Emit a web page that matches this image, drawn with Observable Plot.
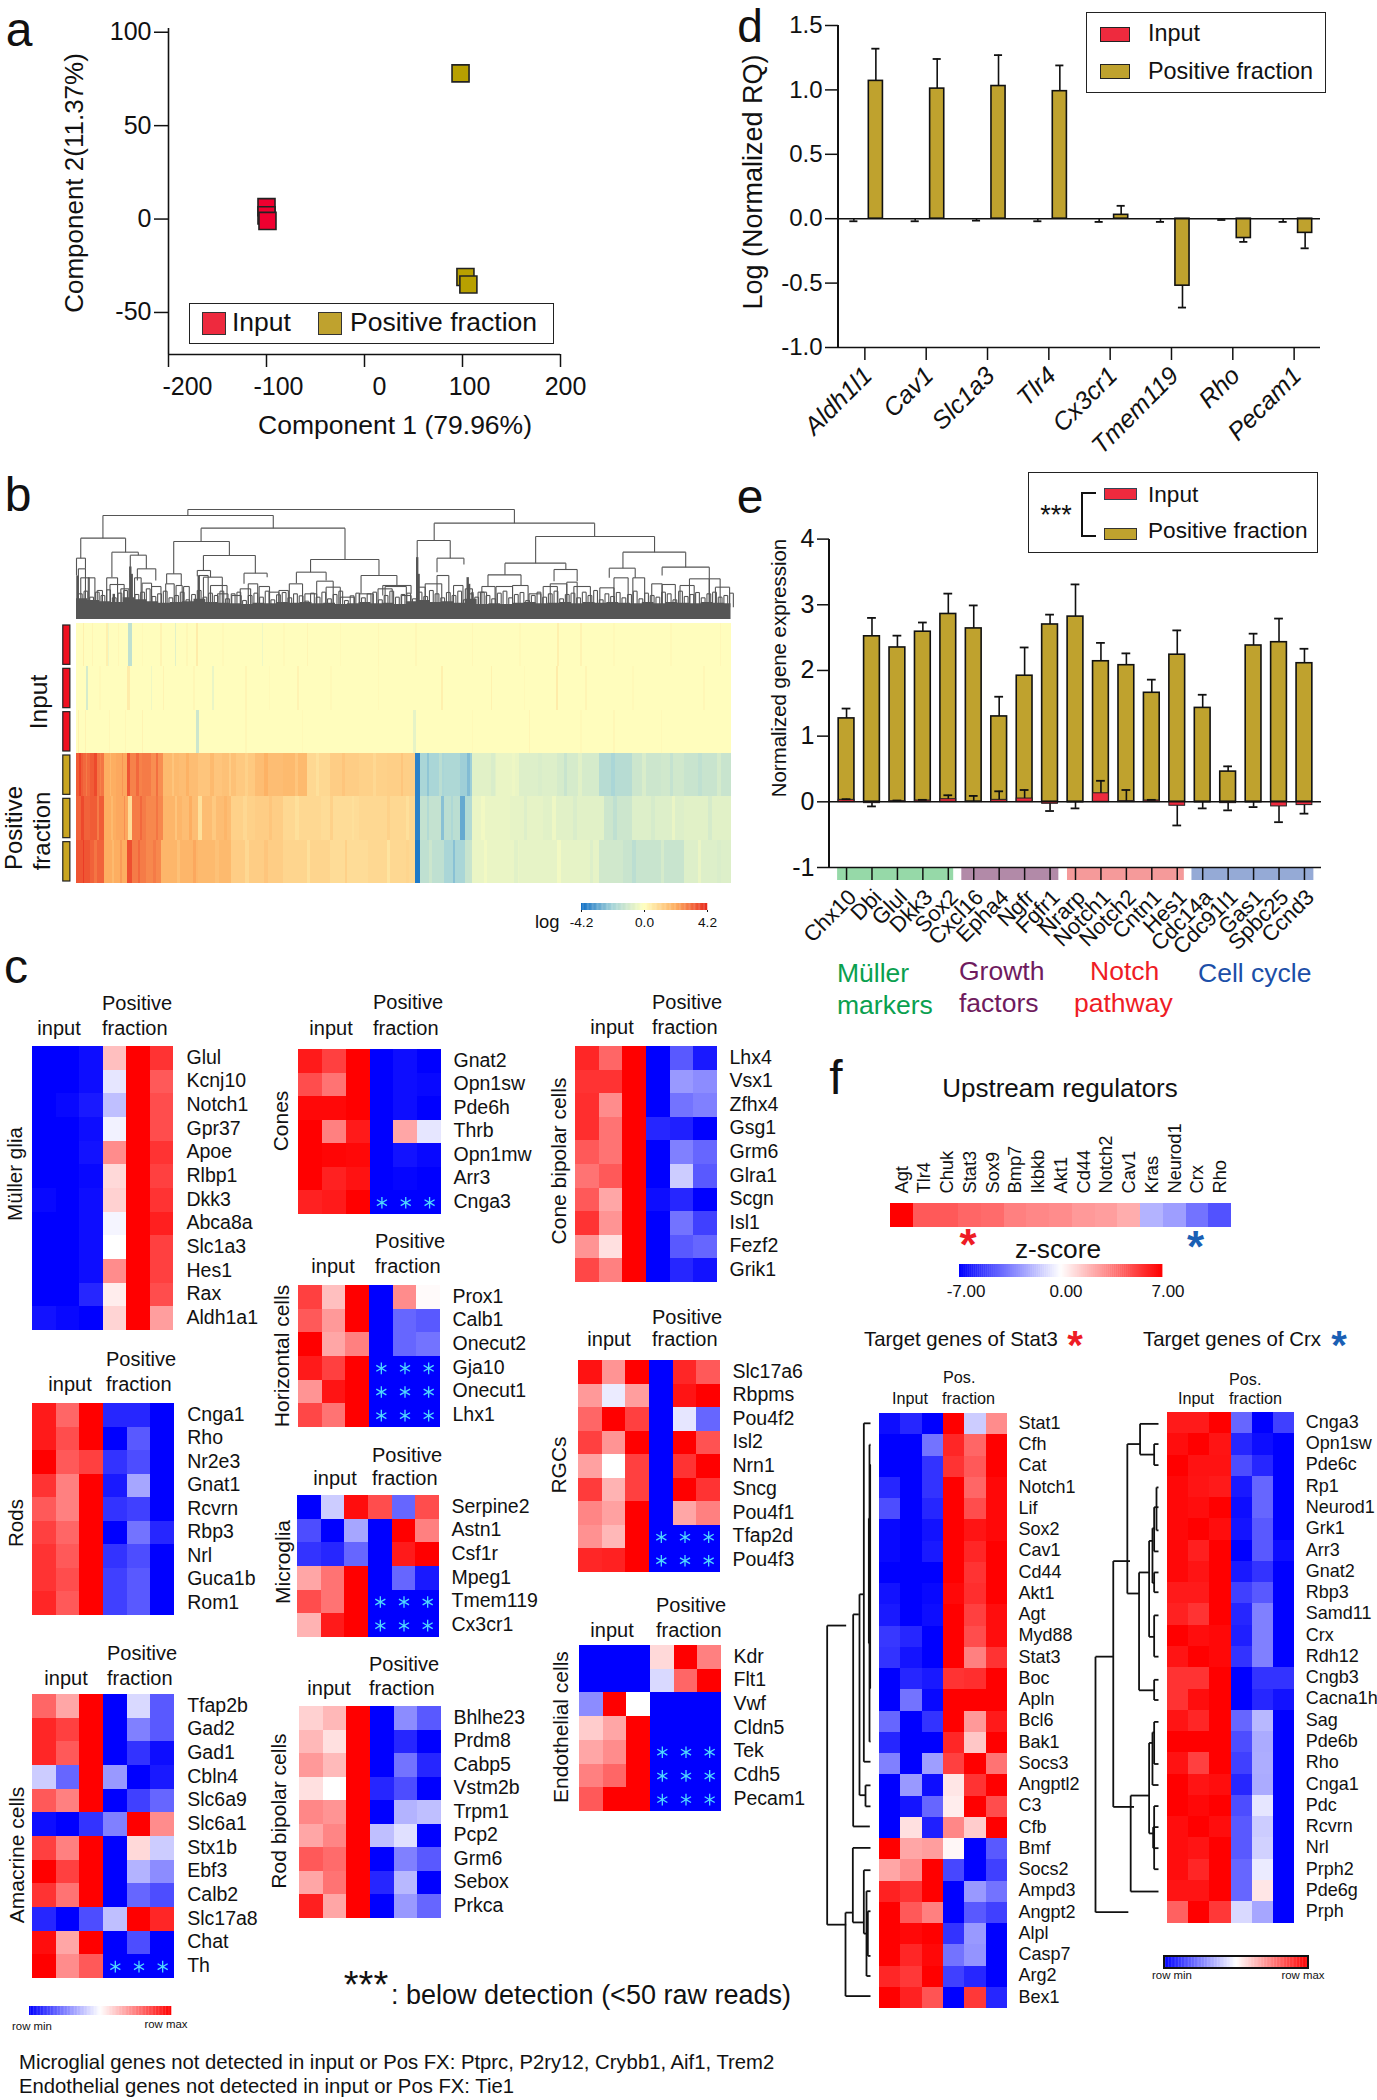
<!DOCTYPE html>
<html><head><meta charset="utf-8">
<style>
html,body{margin:0;padding:0;background:#fff}
#page{position:relative;width:1377px;height:2100px;overflow:hidden;font-family:"Liberation Sans",Arial,sans-serif;color:#111}
#page svg{position:absolute;max-width:none}
.t{position:absolute;white-space:nowrap;line-height:1}
.b{position:absolute;box-sizing:border-box}
</style>
<script src="https://cdn.jsdelivr.net/npm/d3@7"></script>
<script src="https://cdn.jsdelivr.net/npm/@observablehq/plot@0.6"></script>
</head><body><div id="page"></div>
<script>
// ---------- DATA ----------
const pcaInput=[[-100,6.4],[-100,2],[-99,-1]];
const pcaPositive=[[98,78],[103,-31],[106,-35]];
const pcaXTicks=[-200,-100,0,100,200];
const pcaXLabelShift=[19,12,15,7,5];

const qpcrGenes=["Aldh1l1","Cav1","Slc1a3","Tlr4","Cx3cr1","Tmem119","Rho","Pecam1"];
const qpcrInput=[0,0,0,0,0,0,0,0];
const qpcrInputErr=[-.02,-.02,-.015,-.02,-.025,-.025,-.01,-.025];
const qpcrPositive=[1.07,1.01,1.03,.99,.03,-.52,-.15,-.11];
const qpcrPositiveErr=[1.32,1.24,1.27,1.19,.10,-.69,-.18,-.23];

const exprGenes=["Chx10","Dbi","Glul","Dkk3","Sox2","Cxcl16","Epha4","Ngfr","Fgfr1","Nrarp","Notch1","Notch2","Cntn1","Hes1","Cdc14a","Cdc91l1","Gas1","Spbc25","Ccnd3"];
const exprPositive=[1.27,2.52,2.35,2.59,2.86,2.64,1.30,1.92,2.70,2.82,2.14,2.08,1.66,2.24,1.43,.46,2.38,2.43,2.11];
const exprPositiveErr=[1.42,2.80,2.53,2.73,3.17,2.99,1.60,2.35,2.85,3.31,2.42,2.26,1.86,2.61,1.63,.54,2.56,2.79,2.33];
const exprInput=[.03,-.02,.01,.02,.04,.005,.03,.05,-.03,-.01,.13,.01,.02,-.06,-.01,-.02,-.01,-.07,-.05];
const exprInputErr=[.04,-.07,.02,.03,.10,.09,.16,.18,-.14,-.10,.32,.18,.03,-.36,-.10,-.13,-.08,-.31,-.18];
const exprGroupStart=[-.35,4.54,8.7,13.6];
const exprGroupEnd=[4.22,8.36,13.3,18.4];
const exprGroupColor=["#96d9a8","#b28aa8","#f59a9a","#95aad6"];

// panel b: dendrogram [left, right, height, left leg end, right leg end]
const dendroUpper=[[397,1089,147,165,188],[217,578,165,233,203],[170,265,233,293,275],[161,180,293,345,325],[236,292,275,350,284],[275,309,284,350,325],[290,329,325,360,360],[425,730,203,243,297],[367,485,243,340,285],[352,383,340,370,375],[430,540,285,330,338],[417,445,330,347,350],[516,565,338,370,350],[657,802,297,335,345],[627,690,335,368,360],[764,840,345,398,375],[810,870,375,405,400],[919,1259,188,240,228],[883,953,240,400,293],[925,982,293,335,312],[1134,1386,228,308,275],[1069,1198,308,343,327],[1033,1103,343,378,375],[1173,1222,327,362,362],[1319,1452,275,323,320],[1290,1345,323,352,352],[1402,1502,320,345,355]];
const dendroLower=[[165,180,325],[170,188,352],[186,200,352],[205,216,390],[225,248,352],[232,262,372],[255,272,385],[284,298,352],[300,320,368],[320,340,378],[350,368,370],[372,385,375],[388,400,378],[420,440,345],[430,470,350],[445,480,375],[460,482,400],[490,510,405],[508,530,385],[525,545,370],[548,570,378],[570,590,395],[590,610,390],[612,640,370],[645,670,400],[670,705,362],[690,720,380],[720,750,410],[760,790,400],[800,830,385],[815,860,378],[850,870,405],[885,900,380],[900,935,370],[925,950,345],[960,980,375],[985,1000,385],[1012,1030,395],[1020,1048,378],[1050,1085,378],[1085,1118,375],[1120,1145,400],[1150,1180,378],[1165,1200,370],[1200,1222,365],[1215,1250,378],[1270,1300,382],[1300,1330,352],[1340,1365,352],[1380,1402,370],[1402,1430,372],[1440,1470,375],[1460,1502,355],[1502,1525,355],[1515,1545,380]];
const dendroTinyY=[400,392,410,395,405,388,412,398,390,415,402,395,385,408,400,392,412,405,395,418,402,390,410,398,405,392,415,400,395,420,405,398,410,392,418,403,396,412,400,406,422,398,410,395,415,402,392,420,406,398,412,400,395,418,405,392,410,402,398,415,395,408,390,400,412,396,405,392,418,400,410,395,405,415,398,392,412,402,396,420,405,395,410,400,392,415,402,398,412,395,405,390,418,400,408,396,412,402,392,415,398,405,410,395,400,418,392,408,402,396,412,400,395,410,405,398];
const dendroThick=[[163,345],[275,318],[278,340],[420,345],[883,290],[886,340],[240,400],[990,350],[993,370],[1000,395]];
const dendroMassX=[161,185,210,235,260,285,310,335,360,385,410,435,460,485,510,535,560,585,610,635,660,685,710,735,760,785,810,835,860,885,910,935,960,985,1010,1035,1060,1085,1110,1135,1160,1185,1210,1235,1260,1285,1310,1335,1360,1385,1410,1435,1460,1485,1510,1535,1548];
const dendroMassTop=[415,420,424,426,412,418,424,428,426,424,416,426,428,430,432,428,430,426,428,426,430,428,432,430,426,430,428,432,424,420,426,424,428,416,432,430,432,428,426,430,428,426,430,426,428,426,428,430,426,430,426,428,430,426,428,430,430];
const bRows=["I1","I2","I3","P1","P2","P3"];
const pos1Edges=[161,175,190,205,220,245,270,275,300,320,345,380,420,470,500,540,600,650,700,760,820,880,890,940,975,1000,1050,1100,1180,1270,1340,1400,1450,1548];
const pos1Vals=[3.4,3.2,3.4,3.0,2.1,2.2,3.5,2.8,2.9,2.6,1.8,1.7,1.5,1.6,1.4,1.7,1.8,1.0,1.3,1.2,1.25,-3.8,-2.0,-1.9,-2.2,-.7,-.5,-.8,-1.0,-1.7,-1.2,-1.1,-1.3];
const pos2Edges=[161,190,220,245,272,280,310,345,385,420,428,490,540,600,680,760,880,890,935,940,975,985,1000,1080,1150,1280,1340,1450,1548];
const pos2Vals=[3.3,3.4,2.1,2.2,.9,2.9,2.7,1.9,1.7,.8,1.7,1.2,1.3,1.0,.9,1.0,-3.8,-1.4,-2.5,-1.6,-3.0,-1.8,-.5,-.6,-.7,-1.2,-.8,-.7];
const pos3Edges=[161,190,220,270,280,310,342,420,490,600,700,780,880,890,940,985,1000,1100,1270,1320,1450,1548];
const pos3Vals=[3.5,3.3,2.1,3.6,2.9,2.7,1.9,1.8,1.3,1.1,.9,1.0,-4,-1.5,-2.0,-1.3,-.5,-.6,-1.1,-1.3,-.8];
const pos1Stripes=[[168,4,3.8],[182,3,2.9],[200,5,3.7],[212,3,2.8],[232,4,1.8],[258,3,2.5],[288,6,3.2],[330,5,3.1],[365,4,1.5],[395,6,2.0],[445,8,1.8],[485,5,1.3],[520,6,1.2],[560,8,2.0],[625,6,1.5],[670,6,.8],[725,5,1.5],[790,6,1.0],[850,5,1.5],[905,5,-2.4],[930,6,-1.6],[990,5,-2.6],[1040,8,-.9],[1085,6,-.4],[1140,8,-.9],[1195,6,-1.3],[1225,8,-.7],[1295,8,-2.0],[1360,8,-.9],[1420,6,-1.4],[1480,8,-1.5],[1520,8,-1.0]];
const pos2Stripes=[[172,5,3.7],[205,4,2.9],[235,4,1.8],[262,3,2.6],[296,5,3.2],[330,4,3.0],[370,5,1.5],[400,6,2.1],[450,8,1.4],[475,5,1.9],[515,8,1.0],[570,7,1.5],[625,8,.8],[700,6,1.2],[745,6,.8],[820,6,1.2],[860,6,.8],[905,5,-1.8],[955,4,-1.9],[1020,8,-.3],[1110,7,-.8],[1170,8,-.4],[1215,7,-.9],[1300,8,-1.5],[1380,8,-1.0],[1425,6,-.5],[1500,8,-1.0]];
const pos3Stripes=[[175,4,3.9],[200,5,3.0],[238,4,1.8],[255,4,2.4],[292,5,3.2],[325,5,2.9],[375,6,1.6],[410,5,2.2],[455,8,1.6],[520,7,1.0],[560,7,1.5],[650,7,.8],[730,6,1.2],[820,6,.7],[860,6,1.1],[910,5,-1.2],[960,4,-2.5],[1025,6,-.3],[1090,7,-.7],[1180,8,-.3],[1250,6,-.8],[1340,8,-1.6],[1400,8,-1.0],[1480,6,-.5],[1520,8,-.9]];
const inputBase=.05;
const input1Stripes=[[175,4,.4],[225,4,.4],[228,3,-.4],[272,8,-1.5],[340,3,.3],[370,3,-.7],[415,4,.5],[555,3,-.4],[650,3,.25],[800,4,.2],[1000,3,.2],[1180,4,.4],[1230,3,.3],[1525,3,.2],[195,3,.25],[250,3,.2],[300,3,.15],[395,3,.2],[470,4,.15],[600,3,.15],[720,3,.15],[880,3,.2],[1100,3,.15],[1300,3,.15],[1420,3,.15]];
const input2Stripes=[[183,4,-1],[270,6,.5],[320,3,-.4],[345,3,.3],[450,3,-.5],[520,4,.25],[630,4,.3],[935,3,.4],[1040,3,.35],[1178,4,.5],[1240,3,.25],[1490,3,.2],[210,3,.15],[410,3,.2],[570,3,.15],[700,3,.15],[800,3,.15],[1110,3,.15],[1340,3,.15]];
const input3Stripes=[[165,3,.4],[180,3,.3],[300,4,.3],[416,6,-1.2],[520,3,.2],[875,6,-.6],[1120,3,.25],[1300,3,.2],[1400,3,.15],[230,3,.2],[265,3,.2],[640,3,.15],[1000,3,.15],[1230,3,.15]];

// panel c
const mullerGenes=["Glul","Kcnj10","Notch1","Gpr37","Apoe","Rlbp1","Dkk3","Abca8a","Slc1a3","Hes1","Rax","Aldh1a1"];
const mullerVals=[[-1,-1,-.95,.25,1,.8],[-1,-1,-.95,-.1,1,.65],[-1,-.97,-.9,-.25,1,.7],[-1,-1,-.95,-.05,1,.7],[-1,-1,-.93,.45,1,.8],[-1,-1,-.97,.15,1,.75],[-.97,-1,-.95,.18,1,.8],[-1,-1,-.95,-.04,1,.88],[-1,-1,-.95,0,1,.75],[-1,-1,-.95,.45,1,.75],[-1,-1,-.85,.07,1,.7],[-.93,-.97,-1,.17,1,.38]];
const rodGenes=["Cnga1","Rho","Nr2e3","Gnat1","Rcvrn","Rbp3","Nrl","Guca1b","Rom1"];
const rodVals=[[.9,.6,1,-.85,-.85,-1],[.9,.7,1,-1,-.65,-1],[1,.65,.75,-.8,-.7,-1],[.8,.5,1,-.9,-.35,-1],[.65,.5,1,-.8,-.75,-1],[.75,.6,1,-1,-.55,-.85],[.8,.65,1,-.8,-.7,-1],[.8,.7,1,-.75,-.65,-1],[.85,.65,1,-.75,-.65,-1]];
const amacrineGenes=["Tfap2b","Gad2","Gad1","Cbln4","Slc6a9","Slc6a1","Stx1b","Ebf3","Calb2","Slc17a8","Chat","Th"];
const amacrineVals=[[.6,.35,1,-1,-.15,-.65],[.85,.75,1,-1,-.5,-.65],[.85,.65,1,-1,-.8,-.95],[-.2,-.6,1,-.4,-1,-.9],[.65,.5,1,-1,-.75,-.6],[-.95,-1,-.8,-.5,1,.45],[.75,.5,1,-1,.15,-.2],[1,.75,1,-1,-.3,-.45],[.8,.55,1,-1,-.6,-.7],[-.85,-1,-.7,-.25,1,.85],[.95,.35,1,-1,-.7,-1],[1,.45,.65,-1,-1,-1]];
const amacrineStars=["Th"];
const coneGenes=["Gnat2","Opn1sw","Pde6h","Thrb","Opn1mw","Arr3","Cnga3"];
const coneVals=[[.9,.75,1,-1,-.95,-1],[.7,.55,1,-1,-.95,-.97],[.97,.97,1,-1,-.95,-1],[1,.5,.9,-1,.35,-.1],[1,.98,.97,-1,-.93,-.97],[1,.87,.93,-1,-.98,-1],[.87,.9,1,-1,-1,-1]];
const coneStars=["Cnga3"];
const horizontalGenes=["Prox1","Calb1","Onecut2","Gja10","Onecut1","Lhx1"];
const horizontalVals=[[.75,.25,1,-1,.45,.02],[.65,.4,1,-1,-.6,-.65],[1,.35,.5,-1,-.6,-.55],[.9,.75,1,-1,-1,-1],[.42,.92,1,-1,-1,-1],[.72,.55,1,-1,-1,-1]];
const horizontalStars=["Gja10","Onecut1","Lhx1"];
const microgliaGenes=["Serpine2","Astn1","Csf1r","Mpeg1","Tmem119","Cx3cr1"];
const microgliaVals=[[-1,-.2,.95,.7,-.6,.7],[-.7,-1,-.35,-1,1,.5],[-.8,-.85,-.6,-1,.9,1],[.35,.55,1,-1,-.6,-.9],[.7,.55,1,-1,-1,-1],[.3,.9,1,-1,-1,-1]];
const microgliaStars=["Tmem119","Cx3cr1"];
const rodBipolarGenes=["Bhlhe23","Prdm8","Cabp5","Vstm2b","Trpm1","Pcp2","Grm6","Sebox","Prkca"];
const rodBipolarVals=[[.18,.28,1,-1,-.45,-.65],[.28,.12,1,-1,-.85,-1],[.4,.27,1,-1,-.55,-.85],[.12,0,1,-.85,-.7,-1],[.47,.42,1,-1,-.3,-.25],[.35,.48,1,-.25,-.12,-1],[.65,.58,1,-1,-.5,-.65],[.35,.55,1,-.85,-.28,-1],[.88,.35,1,-1,-.4,-.6]];
const coneBipolarGenes=["Lhx4","Vsx1","Zfhx4","Gsg1","Grm6","Glra1","Scgn","Isl1","Fezf2","Grik1"];
const coneBipolarVals=[[.85,.6,1,-1,-.65,-.9],[.8,.8,1,-1,-.4,-.45],[.82,.45,1,-1,-.55,-.5],[.82,.55,1,-.85,-.88,-1],[.65,.55,1,-1,-.5,-.6],[.55,.65,1,-1,-.2,-.65],[.65,.35,1,-.95,-.85,-1],[.8,.42,1,-1,-.55,-.75],[.42,.12,1,-1,-.65,-.6],[.72,.5,1,-1,-.85,-.93]];
const rgcGenes=["Slc17a6","Rbpms","Pou4f2","Isl2","Nrn1","Sncg","Pou4f1","Tfap2d","Pou4f3"];
const rgcVals=[[.93,.42,1,-1,.85,.65],[.4,-.08,.38,-1,.92,1],[.6,1,.75,-1,-.1,-.6],[.75,.42,1,-1,1,.68],[.37,0,.75,-1,.8,1],[.77,.3,.75,-1,1,.8],[.48,.37,1,-1,.35,.5],[.43,.28,1,-1,-1,-1],[.85,.87,1,-1,-1,-1]];
const rgcStars=["Tfap2d","Pou4f3"];
const endoGenes=["Kdr","Flt1","Vwf","Cldn5","Tek","Cdh5","Pecam1"];
const endoVals=[[-1,-1,-1,.15,1,.5],[-1,-1,-1,-.15,.6,1],[-.45,1,0,-1,-1,-1],[.2,.35,1,-1,-1,-1],[.35,.45,1,-1,-1,-1],[.5,.6,1,-1,-1,-1],[.65,1,1,-1,-1,-1]];
const endoStars=["Tek","Cdh5","Pecam1"];

// panel f
const regulators=["Agt","Tlr4","Chuk","Stat3","Sox9","Bmp7","Ikbkb","Akt1","Cd44","Notch2","Cav1","Kras","Neurod1","Crx","Rho"];
const regulatorZ=[1,.65,.65,.6,.58,.5,.47,.45,.4,.38,.32,-.3,-.38,-.55,-.68];
const stat3Genes=["Stat1","Cfh","Cat","Notch1","Lif","Sox2","Cav1","Cd44","Akt1","Agt","Myd88","Stat3","Boc","Apln","Bcl6","Bak1","Socs3","Angptl2","C3","Cfb","Bmf","Socs2","Ampd3","Angpt2","Alpl","Casp7","Arg2","Bex1"];
const stat3Vals=[[-.95,-.85,-1,1,-.2,.45],[-1,-1,-.55,.85,.6,1],[-1,-1,-.8,.8,.65,1],[-.85,-1,-.8,1,.6,.97],[-.7,-1,-.85,1,.7,.97],[-.97,-1,-.93,1,.92,.97],[-.97,-1,-.9,1,.85,1],[-1,-1,-1,1,.8,1],[-.93,-1,-.97,.97,.82,1],[-.9,-1,-.95,1,.75,.95],[-.78,-.85,-1,1,.7,.95],[-.8,-.92,-1,1,.5,.8],[-1,-.85,-.9,.8,.82,1],[-1,-.55,-.97,1,1,1],[-.6,-1,-.8,1,.4,.9],[-.85,-1,-1,.85,.22,1],[-.5,-1,-.38,.75,1,.55],[-1,-.4,-.95,.1,.8,1],[-1,-.92,-.6,.07,1,.7],[-1,.12,-.88,.47,.2,1],[1,.35,.38,.03,-1,-.65],[.35,.45,1,-.72,-1,-.75],[.87,.8,1,-1,-.4,-.55],[1,.65,.5,-1,-.65,-.75],[1,.97,1,-.8,-.4,-1],[1,.85,.97,-.55,-.42,-1],[.85,.78,1,-.75,-.85,-1],[1,.87,.67,-1,.78,-.85]];
const crxGenes=["Cnga3","Opn1sw","Pde6c","Rp1","Neurod1","Grk1","Arr3","Gnat2","Rbp3","Samd11","Crx","Rdh12","Cngb3","Cacna1h","Sag","Pde6b","Rho","Cnga1","Pdc","Rcvrn","Nrl","Prph2","Pde6g","Prph"];
const crxVals=[[.9,.9,1,-.6,-1,-.75],[.95,1,.92,-.85,-.95,-1],[1,.93,.93,-.7,-.85,-1],[.97,.92,.9,-.9,-.6,-1],[.97,.95,1,-.95,-.6,-1],[.97,1,.95,-.92,-.65,-1],[.97,.88,1,-1,-.65,-.95],[.97,.92,1,-.9,-.8,-1],[.9,.9,1,-.75,-.65,-1],[.87,.8,1,-.85,-.5,-1],[1,.95,.97,-.88,-.5,-1],[.92,1,.97,-.8,-.5,-1],[.8,.8,1,-1,-.8,-.8],[.8,.95,1,-1,-.85,-.93],[.92,.85,1,-.6,-.28,-1],[1,1,1,-.7,-.33,-1],[.93,.75,1,-.75,-.32,-1],[1,.92,.95,-.85,-.33,-1],[1,.97,1,-.7,-.1,-1],[.95,1,.95,-.65,-.2,-1],[.95,.92,1,-.65,-.18,-1],[.95,.85,1,-.6,-.08,-1],[.92,.92,1,-.6,.1,-1],[.62,1,.78,-.15,-.35,-1]];
// tree nodes: [depth of join, top row, bottom row, depth top leg ends, depth bottom leg ends]
const stat3Tree=[[-10,660,1330,47,47],[68,635,1110,85,118],[87,590,1040,100,105],[105,1018,1065,120,120],[100,207,965,120,120],[117,255,920,120,120],[119,300,800,121,121],[115,420,700,120,120],[67,1158,1325,120,100],[45,1303,1490,65,120],[100,1208,1350,120,108],[108,1255,1445,120,120],[112,1300,1400,120,120]];
const crxTree=[[15,775,1382,68,113],[68,548,1132,118,130],[110,270,625,148,145],[148,222,295,203,190],[190,270,320,203,203],[145,575,855,175,190],[190,830,878,203,203],[175,500,728,185,190],[197,373,475,203,203],[190,420,525,203,203],[185,470,600,190,190],[190,575,622,203,203],[190,677,775,203,203],[120,1105,1333,175,203],[175,980,1195,185,190],[190,930,1030,203,203],[185,955,1080,190,203],[190,1130,1280,203,203],[187,1180,1230,203,203]];

// ---------- HELPERS ----------
const FONT='"Liberation Sans",Arial,sans-serif';
const page=document.getElementById("page");
const RED="#ee2a3e",GOLD="#bfa22e",INK="#111";
function put(left,top,opts){
  const svg=Plot.plot({margin:0,...opts,style:{background:"transparent",fontFamily:FONT,overflow:"visible",color:INK}});
  svg.style.left=left+"px";svg.style.top=top+"px";page.appendChild(svg);return svg;
}
function txt(s,x,y,o={}){
  const e=document.createElement("span");e.className="t";e.textContent=s;
  const a=o.anchor==="start"?"0":o.anchor==="end"?"-100%":"-50%";
  e.style.left=x+"px";e.style.top=y+"px";e.style.fontSize=(o.size||20)+"px";
  if(o.color)e.style.color=o.color;
  if(o.bold)e.style.fontWeight="bold";
  e.style.transform=`translate(${a},-50%)`+(o.rot?` rotate(${o.rot}deg)`:"");
  page.appendChild(e);
}
function box(x,y,w,h,fill,border){
  const e=document.createElement("div");e.className="b";
  e.style.cssText+=`left:${x}px;top:${y}px;width:${w}px;height:${h}px;background:${fill||"transparent"};`+(border?`border:${border};`:"");
  page.appendChild(e);
}
const blueRed={type:"linear",domain:[-1,0,1],range:["#0000ff","#ffffff","#ff0000"],clamp:true};
function heat(genes,vals,x0,x1,y0,y1,stars,geneX,fs){
  const cols=d3.range(vals[0].length);
  const cells=genes.flatMap((g,r)=>vals[r].map((v,c)=>({k:r,g,c,v})));
  const rowKeys=genes.map((g,i)=>i);
  const mr=120;
  const starCells=cells.filter(d=>(stars||[]).includes(d.g)&&d.c>2);
  put(x0,y0,{width:x1-x0+mr,height:y1-y0,marginRight:mr,
    x:{type:"band",domain:cols,padding:0,round:false,axis:null},
    y:{type:"band",domain:rowKeys,padding:0,round:false},
    color:blueRed,
    marks:[
      Plot.cell(cells,{x:"c",y:"k",fill:"v",shapeRendering:"crispEdges"}),
      Plot.dot(starCells,{x:"c",y:"k",symbol:"asterisk",r:5.5,stroke:"#4fd8ff",strokeWidth:1.3}),
      Plot.axisY({anchor:"right",tickSize:0,tickPadding:geneX-x1,fontSize:fs||19.5,label:null,dy:-1,tickFormat:i=>genes[i]})
    ]});
}
function gradient(x0,x1,y0,y1,color,domain,ticks,fs){
  const step=(domain[1]-domain[0])/100;
  const d=d3.range(100).map(i=>({a:domain[0]+i*step,b:domain[0]+(i+1)*step+step*.2,v:domain[0]+(i+.5)*step}));
  const marks=[Plot.rectY(d,{x1:"a",x2:"b",y1:0,y2:1,fill:"v"})];
  if(ticks)marks.push(Plot.axisX({ticks,tickSize:2,tickPadding:5,fontSize:fs,label:null,tickFormat:v=>v.toFixed(1)}));
  put(x0,y0,{width:x1-x0,height:y1-y0,x:{domain,range:[0,x1-x0],axis:null},y:{domain:[0,1],axis:null,range:[y1-y0,0]},color,marks});
}
function treePlot(tree,x0,x1,y0,y1,dom,ydom){
  const segs=tree.flatMap(([d,a,b,da,db])=>[[d,a,d,b],[d,a,da,a],[d,b,db,b]]).map(([x1,y1,x2,y2])=>({x1,y1,x2,y2}));
  put(x0,y0,{width:x1-x0,height:y1-y0,x:{domain:dom,axis:null,range:[0,x1-x0]},y:{domain:ydom,axis:null,range:[0,y1-y0]},
    marks:[Plot.link(segs,{x1:"x1",y1:"y1",x2:"x2",y2:"y2",stroke:"#111",strokeWidth:1.8,curve:"linear"})]});
}

// ---------- PANEL LETTERS ----------
[["a",19,30,48],["b",18,495,48],["c",16,967,48],["d",750,26,46],["e",750,497,48],["f",836,1078,48]].forEach(([l,x,y,s])=>txt(l,x,y,{size:s}));

// ---------- PANEL A ----------
put(0,0,{width:620,height:420,marginLeft:168,marginRight:60,marginTop:28,marginBottom:66,
  x:{domain:[-200,200]},y:{domain:[-72.5,102]},
  marks:[
    Plot.ruleX([-200],{y1:-72.5,y2:102,strokeWidth:1.6}),
    Plot.ruleY([-72.5],{x1:-200,x2:200,strokeWidth:1.6}),
    Plot.axisY({ticks:[-50,0,50,100],tickSize:14,tickPadding:3,fontSize:25,strokeWidth:1.5,label:null,tickFormat:String}),
    Plot.axisX({ticks:pcaXTicks,tickSize:13,strokeWidth:1.5,label:null,tickFormat:()=>""}),
    ...pcaXTicks.map((t,i)=>Plot.axisX({ticks:[t],tickSize:0,tickPadding:23,fontSize:25,dx:pcaXLabelShift[i],label:null,tickFormat:String})),
    Plot.dot(pcaPositive,{x:"0",y:"1",symbol:"square",r:9.6,fill:"#b8a000",stroke:"#222",strokeWidth:1.6}),
    Plot.dot(pcaInput,{x:"0",y:"1",symbol:"square",r:9.6,fill:"#f00030",stroke:"#222",strokeWidth:1.6})
  ]});
txt("Component 1 (79.96%)",395,425,{size:26.5});
txt("Component 2(11.37%)",74,183,{size:26,rot:-90});
box(189,303,365,41,"#fff","1.6px solid #222");
box(202,312,24,23,RED,"1.5px solid #333");
txt("Input",232,322,{size:26.5,anchor:"start"});
box(318,312,24,23,GOLD,"1.5px solid #333");
txt("Positive fraction",350,322,{size:26.5,anchor:"start"});

// ---------- PANEL D ----------
const qData=qpcrGenes.map((g,i)=>({g,inp:qpcrInput[i],ie:qpcrInputErr[i],pos:qpcrPositive[i],pe:qpcrPositiveErr[i]}));
const qDx=11;
put(720,15,{width:657,height:455,marginLeft:118,marginRight:57,marginTop:10,marginBottom:123,
  x:{type:"band",domain:qpcrGenes,paddingInner:.77,paddingOuter:.315,round:false},y:{domain:[-1,1.5]},
  marks:[
    Plot.ruleX(qData,{x:"g",y1:"pos",y2:"pe",dx:qDx,strokeWidth:1.6}),
    Plot.tickY(qData,{x:"g",y:"pe",dx:qDx,insetLeft:3,insetRight:3,strokeWidth:1.8}),
    Plot.ruleX(qData,{x:"g",y1:"inp",y2:"ie",dx:-qDx,strokeWidth:1.6}),
    Plot.tickY(qData,{x:"g",y:"ie",dx:-qDx,insetLeft:3,insetRight:3,strokeWidth:1.8}),
    Plot.barY(qData,{x:"g",y:"pos",dx:qDx,fill:GOLD,stroke:"#111",strokeWidth:1.6}),
    Plot.barY(qData,{x:"g",y:"inp",dx:-qDx,fill:RED,stroke:"#111",strokeWidth:1.6}),
    Plot.ruleY([0],{strokeWidth:1.6}),
    Plot.ruleY([-1],{strokeWidth:1.6}),
    Plot.axisY({ticks:[-1,-.5,0,.5,1,1.5],tickSize:13,tickPadding:3,fontSize:24,strokeWidth:1.5,label:null,tickFormat:d=>d.toFixed(1)}),
    Plot.axisX({tickSize:13,strokeWidth:1.5,label:null,tickFormat:()=>""}),
    Plot.axisX({tickSize:0,tickPadding:24,dx:3,tickRotate:-45,fontSize:25,fontStyle:"italic",label:null})
  ]});
box(837.2,25,1.6,322,"#111");
txt("Log (Normalized RQ)",753,182,{size:27,rot:-90});
box(1086,12,240,81,"#fff","1.6px solid #222");
box(1100,27,30,15,RED,"1.5px solid #222");
txt("Input",1148,34,{size:23.4,anchor:"start"});
box(1100,64,30,15,GOLD,"1.5px solid #222");
txt("Positive fraction",1148,72,{size:23.4,anchor:"start"});

// ---------- PANEL B ----------
const dendroSegs=[];
dendroUpper.forEach(([a,b,y,ya,yb])=>{dendroSegs.push({x1:a,y1:y,x2:b,y2:y},{x1:a,y1:y,x2:a,y2:ya},{x1:b,y1:y,x2:b,y2:yb});});
dendroLower.forEach(([a,b,y])=>{dendroSegs.push({x1:a,y1:y,x2:b,y2:y},{x1:a,y1:y,x2:a,y2:440},{x1:b,y1:y,x2:b,y2:440});});
dendroTinyY.forEach((y,i)=>{const a=165+i*12,b=a+8;dendroSegs.push({x1:a,y1:y,x2:b,y2:y},{x1:a,y1:y,x2:a,y2:440},{x1:b,y1:y,x2:b,y2:440});});
const massData=dendroMassX.map((x,i)=>({x,t:dendroMassTop[i]}));
put(76,509,{width:654.5,height:110,x:{domain:[161,1548],axis:null,range:[0,654.5]},y:{domain:[147,477],axis:null,range:[0,110]},
  marks:[
    Plot.link(dendroSegs,{x1:"x1",y1:"y1",x2:"x2",y2:"y2",stroke:"#555",strokeWidth:1.1,curve:"linear"}),
    Plot.link(dendroThick,{x1:"0",y1:"1",x2:"0",y2:()=>440,stroke:"#555",strokeWidth:2.4,curve:"linear"}),
    Plot.areaY(massData,{x:"x",y1:()=>477,y2:"t",fill:"#555",curve:"step-after"})
  ]});
const bScale={type:"linear",domain:[-4.2,-2.1,0,2.1,4.2],range:["#0f6fc6","#a6d4d8","#ffffbf","#fdae61","#e8291c"],clamp:true};
function segs(row,edges,vals){return vals.map((v,i)=>({row,a:edges[i],b:edges[i+1],v}));}
function stripeBars(row,list){return list.map(([x,w,v])=>({row,a:x,b:x+w,v}));}
const inputBars=r=>[{row:r,a:161,b:1548,v:inputBase}];
const bBars=[...inputBars("I1"),...stripeBars("I1",input1Stripes),...inputBars("I2"),...stripeBars("I2",input2Stripes),...inputBars("I3"),...stripeBars("I3",input3Stripes),
  ...segs("P1",pos1Edges,pos1Vals),...stripeBars("P1",pos1Stripes),...segs("P2",pos2Edges,pos2Vals),...stripeBars("P2",pos2Stripes),...segs("P3",pos3Edges,pos3Vals),...stripeBars("P3",pos3Stripes)];
put(60,623,{width:670.5,height:260,marginLeft:16,
  x:{domain:[161,1548],axis:null,range:[16,670.5]},y:{type:"band",domain:bRows,padding:0,round:false,axis:null},color:bScale,
  marks:[
    Plot.barX(bBars,{x1:"a",x2:"b",y:"row",fill:"v",shapeRendering:"crispEdges"}),
    Plot.barX(bRows.slice(0,3),{x1:()=>133,x2:()=>148,y:d=>d,fill:"#f01020",stroke:"#222",strokeWidth:1.2,insetTop:2,insetBottom:2}),
    Plot.barX(bRows.slice(3),{x1:()=>133,x2:()=>148,y:d=>d,fill:"#c9a520",stroke:"#222",strokeWidth:1.2,insetTop:2,insetBottom:2})
  ]});
txt("Input",39,702,{size:24.5,rot:-90});
txt("Positive",14,828,{size:24,rot:-90});
txt("fraction",42,831,{size:24,rot:-90});
txt("log",535,922,{size:18.4,anchor:"start"});
gradient(581,707,903,910,bScale,[-4.2,4.2],[-4.2,0,4.2],13.7);

// ---------- PANEL C ----------
function header(inputX,y2,posX,y1,size){
  txt("input",inputX,y2,{size:size||20});
  txt("Positive",posX,y1,{size:size||20,anchor:"start"});
  txt("fraction",posX,y2,{size:size||20,anchor:"start"});
}
heat(mullerGenes,mullerVals,32,173,1046,1330,[],186);
header(59,1028,102,1003);txt("Müller glia",15,1174,{size:20.6,rot:-90});
heat(rodGenes,rodVals,32,174,1403,1615,[],186.7);
header(70,1384,106,1359);txt("Rods",16,1523,{size:20.6,rot:-90});
heat(amacrineGenes,amacrineVals,32,174,1694,1978,amacrineStars,186.7);
header(66,1678,107,1653);txt("Amacrine cells",16,1855,{size:21,rot:-90});
heat(coneGenes,coneVals,298,441,1049,1214,coneStars,453);
header(331,1028,373,1002);txt("Cones",280,1121,{size:21,rot:-90});
heat(horizontalGenes,horizontalVals,298,440,1285,1427,horizontalStars,452);
header(333,1266,375,1241);txt("Horizontal cells",281,1356,{size:21,rot:-90});
heat(microgliaGenes,microgliaVals,297,439,1495,1637,microgliaStars,451);
header(335,1478,372,1455);txt("Microglia",282,1562,{size:21,rot:-90});
heat(rodBipolarGenes,rodBipolarVals,299,441,1706,1918,[],453);
header(329,1688,369,1664);txt("Rod bipolar cells",278,1811,{size:21,rot:-90});
heat(coneBipolarGenes,coneBipolarVals,575,717,1046,1282,[],729);
header(612,1027,652,1002);txt("Cone bipolar cells",558,1161,{size:21,rot:-90});
heat(rgcGenes,rgcVals,578,720,1360,1572,rgcStars,732);
header(609,1339,652,1317);txt("RGCs",558,1465,{size:21,rot:-90});
heat(endoGenes,endoVals,579,721,1645,1811,endoStars,733);
header(612,1630,656,1605);txt("Endothelial cells",560,1727,{size:21,rot:-90});

gradient(29,171,2006,2015,blueRed,[-1,1]);
txt("row min",32,2027,{size:11.4});
txt("row max",166,2025,{size:11.4});
txt("***",366,1985,{size:38});
txt(": below detection (<50 raw reads)",391,1995,{size:27,anchor:"start"});
txt("Microglial genes not detected in input or Pos FX: Ptprc, P2ry12, Crybb1, Aif1, Trem2",19,2062,{size:20.3,anchor:"start"});
txt("Endothelial genes not detected in input or Pos FX: Tie1",19,2086,{size:20.3,anchor:"start"});

// ---------- PANEL E ----------
const groupBands=exprGroupStart.map((a,i)=>({a,b:exprGroupEnd[i],c:exprGroupColor[i]}));
put(829,867,{width:492,height:13,x:{domain:[-.669,18.7],axis:null,range:[0,492]},y:{domain:[0,1],axis:null},
  marks:groupBands.map(d=>Plot.rectY([d],{x1:"a",x2:"b",y1:0,y2:1,fill:d.c}))});
const eData=exprGenes.map((g,i)=>({g,inp:exprInput[i],ie:exprInputErr[i],pos:exprPositive[i],pe:exprPositiveErr[i]}));
put(770,530,{width:607,height:430,marginLeft:59,marginRight:56,marginTop:8.6,marginBottom:93,
  x:{type:"band",domain:exprGenes,paddingInner:.38,paddingOuter:.36,round:false},y:{domain:[-1,4]},
  marks:[
    Plot.ruleX(eData,{x:"g",y1:"pos",y2:"pe",strokeWidth:1.6}),
    Plot.tickY(eData,{x:"g",y:"pe",insetLeft:3.5,insetRight:3.5,strokeWidth:1.8}),
    Plot.barY(eData,{x:"g",y:"pos",fill:GOLD,stroke:"#111",strokeWidth:1.6}),
    Plot.barY(eData,{x:"g",y:"inp",fill:RED,stroke:"#222",strokeWidth:1}),
    Plot.ruleX(eData,{x:"g",y1:"inp",y2:"ie",strokeWidth:1.6}),
    Plot.tickY(eData,{x:"g",y:"ie",insetLeft:3.5,insetRight:3.5,strokeWidth:1.8}),
    Plot.ruleY([0],{strokeWidth:1.6}),
    Plot.ruleY([-1],{strokeWidth:1.6}),
    Plot.axisY({ticks:[-1,0,1,2,3,4],tickSize:12,tickPadding:3,fontSize:25,strokeWidth:1.5,label:null,tickFormat:String}),
    Plot.axisX({tickSize:13,strokeWidth:1.5,label:null,tickFormat:()=>""}),
    Plot.axisX({tickSize:0,tickPadding:26,dx:6,tickRotate:-45,fontSize:22,label:null})
  ]});
box(828.2,538.6,1.6,328.4,"#111");
txt("Normalized gene expression",779,668,{size:20.4,rot:-90});
box(1028,472,290,81,"#fff","1.6px solid #222");
box(1103.5,488,33,12,RED,"1.5px solid #345");
txt("Input",1148,495,{size:22.6,anchor:"start"});
box(1103.5,528,33,12,GOLD,"1.5px solid #333");
txt("Positive fraction",1148,531,{size:22.6,anchor:"start"});
txt("***",1056,515,{size:27});
box(1081,492,1.6,44,"#111");box(1081,492,15,1.6,"#111");box(1081,535,15,1.6,"#111");
txt("Müller",837,973,{size:26.5,color:"#0aa04f",anchor:"start"});
txt("markers",837,1005,{size:26.5,color:"#0aa04f",anchor:"start"});
txt("Growth",959,971,{size:26.5,color:"#6f1b5e",anchor:"start"});
txt("factors",959,1003,{size:26.5,color:"#6f1b5e",anchor:"start"});
txt("Notch",1090,971,{size:26.5,color:"#ef1c25",anchor:"start"});
txt("pathway",1074,1003,{size:26.5,color:"#ef1c25",anchor:"start"});
txt("Cell cycle",1198,973,{size:26.5,color:"#1c4fa8",anchor:"start"});

// ---------- PANEL F ----------
txt("Upstream regulators",1060,1088,{size:26});
const regData=regulators.map((g,i)=>({g,v:regulatorZ[i]}));
put(890,1100,{width:341,height:127,marginTop:103,
  x:{type:"band",domain:regulators,padding:0,round:false},y:{domain:[0,1],axis:null},color:blueRed,
  marks:[
    Plot.rectY(regData,{x:"g",y1:0,y2:1,fill:"v",shapeRendering:"crispEdges"}),
    Plot.axisX({anchor:"top",tickSize:0,tickPadding:10,tickRotate:-90,fontSize:18.3,label:null})
  ]});
txt("*",968,1245,{size:44,color:"#ee1c25",bold:true});
txt("*",1195.5,1247,{size:44,color:"#1a5fb4",bold:true});
txt("z-score",1058,1249,{size:26.3});
gradient(959,1162,1264,1277,blueRed,[-1,1]);
txt("-7.00",966,1291,{size:17});txt("0.00",1066,1291,{size:17});txt("7.00",1168,1291,{size:17});
txt("Target genes of Stat3",864,1339,{size:20.4,anchor:"start"});
txt("*",1075,1345,{size:40,color:"#ee1c25",bold:true});
txt("Target genes of Crx",1143,1339,{size:20.4,anchor:"start"});
txt("*",1339,1345,{size:40,color:"#1a5fb4",bold:true});

heat(stat3Genes,stat3Vals,879,1007,1412.6,2007.7,[],1018,18);
txt("Input",910,1398,{size:16.2});txt("Pos.",943,1377,{size:16.2,anchor:"start"});txt("fraction",942,1398,{size:16.2,anchor:"start"});
treePlot(stat3Tree,825,871,1412.6,2007.7,[-15,123],[185,1518]);

heat(crxGenes,crxVals,1166.7,1294,1412,1922.6,[],1305,18);
txt("Input",1196,1398,{size:16.2});txt("Pos.",1229,1379,{size:16.2,anchor:"start"});txt("fraction",1229,1398,{size:16.2,anchor:"start"});
treePlot(crxTree,1095,1158,1412,1922.6,[15,203],[195,1408]);

gradient(1164,1308,1956,1968,blueRed,[-1,1]);
box(1163,1955,146,14,"transparent","2.5px solid #111");
txt("row min",1172,1976,{size:11.4});
txt("row max",1303,1976,{size:11.4});
</script></body></html>
